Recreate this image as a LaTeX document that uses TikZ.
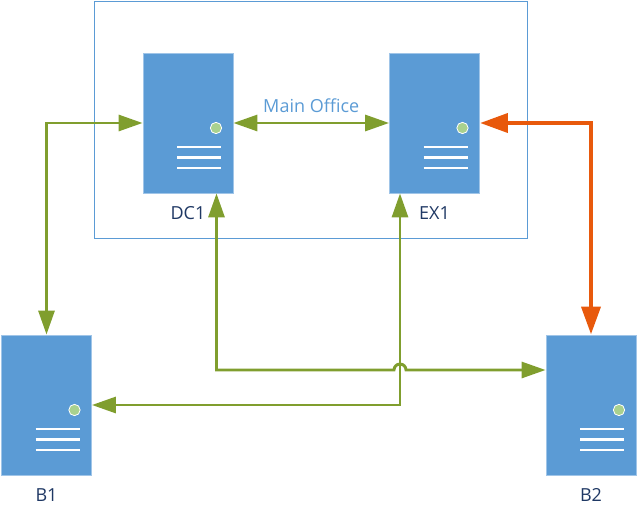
\documentclass[tikz,border=0pt]{standalone}
\usepackage{fontspec}
\setmainfont{Open Sans}
\usetikzlibrary{arrows.meta,calc}
\definecolor{srvblue}{RGB}{91,155,213}
\definecolor{srvedge}{RGB}{160,197,232}
\definecolor{ledgreen}{RGB}{169,209,142}
\definecolor{linkgreen}{RGB}{128,158,46}
\definecolor{linkorange}{RGB}{232,89,12}
\definecolor{labelblue}{RGB}{31,56,100}
\tikzstyle{server}=[rectangle,fill=srvblue,draw=srvedge,line width=0.6pt,minimum width=67.5pt,minimum height=105pt,inner sep=0pt]
\tikzstyle{led}=[circle,fill=ledgreen,draw=white,line width=0.6pt,minimum size=8.5pt,inner sep=0pt]
\tikzstyle{slot}=[draw=white,line width=2.2pt]
\tikzstyle{link}=[draw,line width=2.2pt,linkgreen,{Triangle[length=18pt,width=12pt]}-{Triangle[length=18pt,width=12pt]}]
\tikzstyle{wanlink}=[draw,line width=3.5pt,linkorange,{Triangle[length=21pt,width=14pt]}-{Triangle[length=21pt,width=14pt]}]
\tikzstyle{officebox}=[draw=srvblue,line width=0.75pt]
\tikzstyle{srvname}=[font=\fontsize{13.5}{16}\selectfont,text=labelblue,anchor=base,inner sep=0pt]
\tikzstyle{officename}=[font=\fontsize{13.5}{16}\selectfont,text=srvblue,above=6.5pt,inner sep=0pt]

\begin{document}
\begin{tikzpicture}[x=0.75pt,y=-0.75pt]
    \useasboundingbox (0,0) rectangle (637,518);

    \draw[officebox] (94.5,1.5) rectangle (527,238);

    \foreach \pos/ \name/ \lbl in {{(188,123)/dc1/DC1},{(434.5,123)/ex1/EX1},{(46.5,405)/b1/B1},{(591,405)/b2/B2}} {
        \node[server] (\name) at \pos {};
        \node[led] (\name led) at ($(\name)+(28,5)$) {};
        \foreach \dy in {24,34.5,45}
            \draw[slot] ($(\name)+(-11,\dy)$) -- ++(44,0);
        \node[srvname] (\name txt) at ($(\name.south)+(0,26.5)$) {\lbl};
    }

    % drop points of the links under the main office servers
    \coordinate (dcdrop) at ($(dc1.south)+(28.5,0)$);
    \coordinate (exdrop) at ($(ex1.south)+(-34.5,0)$);
    \coordinate (b2in) at ($(b2.west)+(0,-35)$);
    \coordinate (hop) at (exdrop |- b2in);

    \draw[link] (dc1) -- node[officename] {Main Office} (ex1);
    \draw[link] (dc1.west) -| (b1.north);
    \draw[link] (dcdrop) |- ([xshift=-4.5pt]hop) arc[start angle=180,end angle=0,radius=4.5pt] -- (b2in);
    \draw[link] (exdrop) |- (b1.east);
    \draw[wanlink] (ex1.east) -| (b2.north);

\end{tikzpicture}
\end{document}
